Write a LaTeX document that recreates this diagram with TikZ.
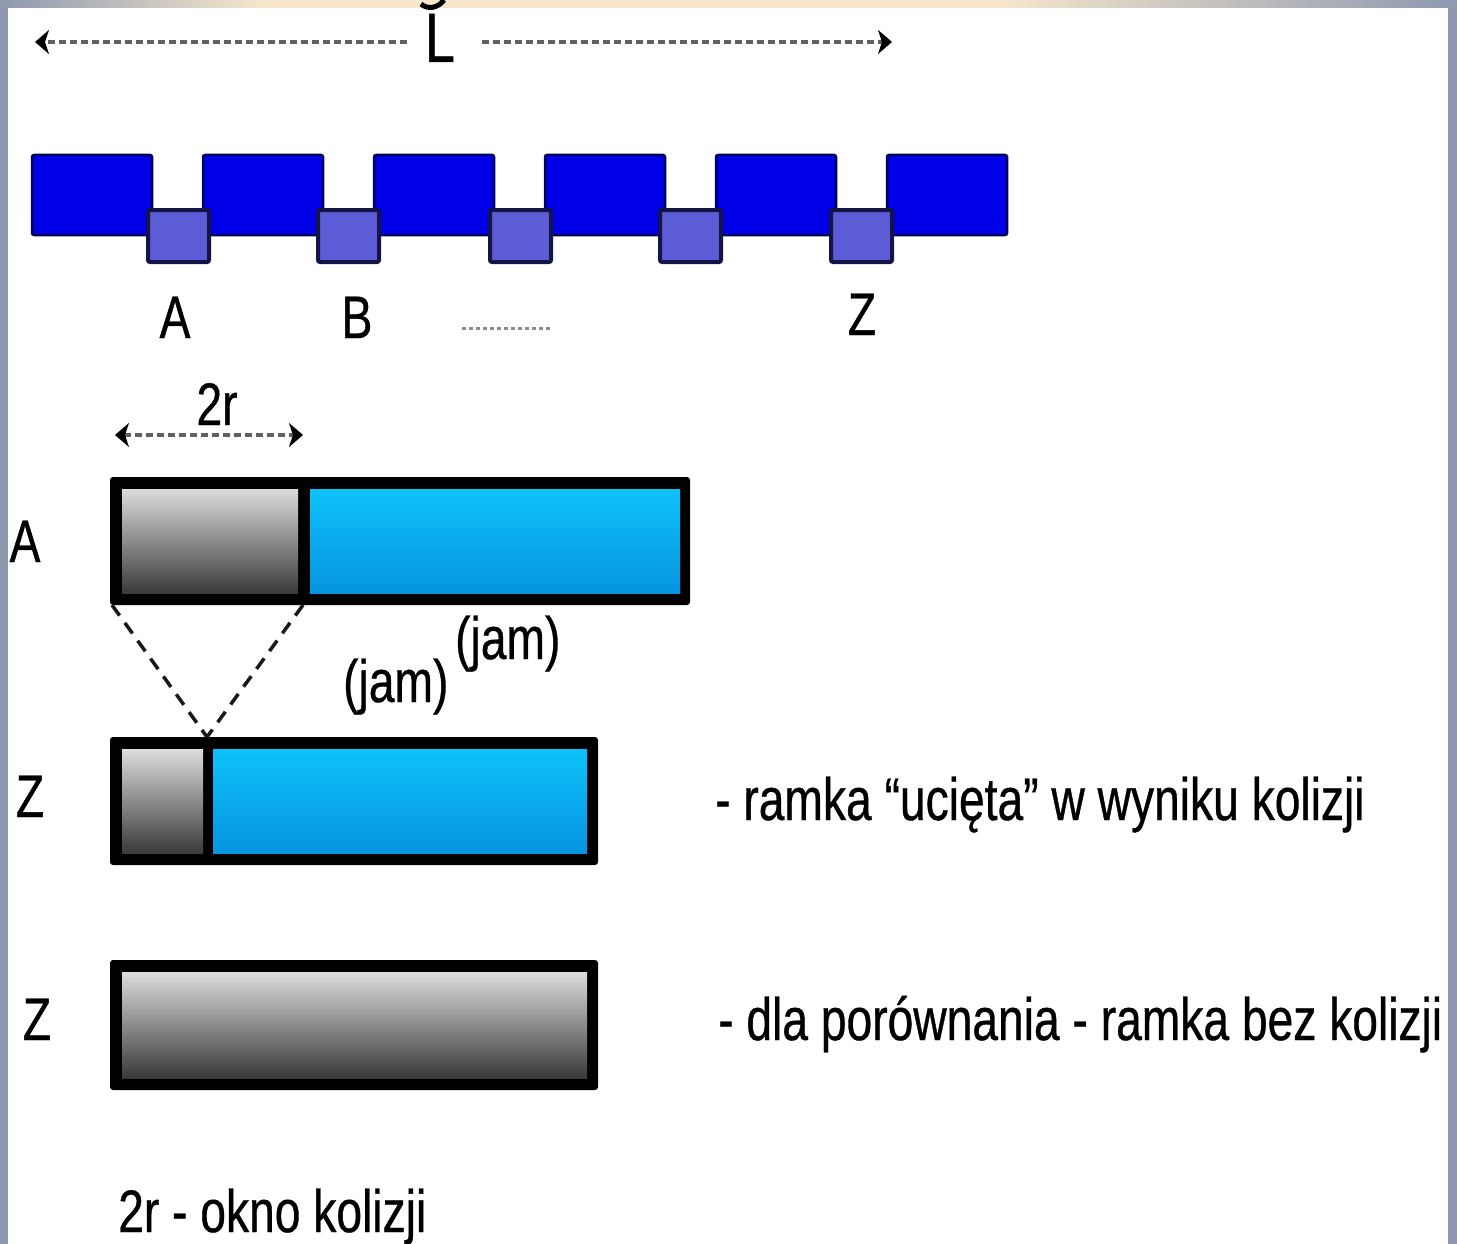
\documentclass[tikz,border=0pt]{standalone}
\usepackage{fontspec}
\setmainfont{Liberation Sans}
\newfontfamily\nar[FakeStretch=0.77,FakeBold=0.6]{Liberation Sans}
\usetikzlibrary{arrows.meta}
\definecolor{frameblue}{RGB}{142,153,175}
\definecolor{beige}{RGB}{245,230,204}
\definecolor{blockblue}{RGB}{0,0,232}
\definecolor{blocknavy}{RGB}{0,0,90}
\definecolor{sqfill}{RGB}{92,92,214}
\definecolor{sqline}{RGB}{20,20,70}
\definecolor{graytop}{RGB}{220,220,220}
\definecolor{graybot}{RGB}{58,58,58}
\definecolor{cyantop}{RGB}{14,194,248}
\definecolor{cyanbot}{RGB}{6,148,224}
\tikzset{
  lbl/.style={font=\nar\fontsize{60}{70}\selectfont, inner sep=0pt, text=black},
  dotarrow/.style={draw=black!62, line width=4pt, dash pattern=on 7pt off 4pt},
  headtip/.tip={Stealth[length=14pt,width=24pt,inset=4pt,color=black]},
  blueblock/.style={fill=blockblue, draw=blocknavy, line width=2.5pt, rounded corners=2pt},
  smallsq/.style={fill=sqfill, draw=sqline, line width=4pt, rounded corners=2pt},
  barframe/.style={fill=black, rounded corners=3pt},
  grayfill/.style={top color=graytop, bottom color=graybot},
  cyanfill/.style={top color=cyantop, bottom color=cyanbot},
  guide/.style={draw=black!90, line width=3.5pt, dash pattern=on 13pt off 9pt}
}
\begin{document}
\begin{tikzpicture}[x=1pt,y=-1pt]
\useasboundingbox (0,0) rectangle (1457,1244);
\fill[white] (0,0) rectangle (1457,1244);

% ---- L span arrow ----
\node[lbl, font=\nar\fontsize{70}{80}\selectfont, anchor=base] (L) at (440,62) {L};
\coordinate (Lin) at (407,42);
\coordinate (Lout) at (35,42);
\coordinate (Rin) at (482,42);
\coordinate (Rout) at (892,42);
\draw[dotarrow, -headtip] (Lin) -- (Lout);
\draw[dotarrow, -headtip] (Rin) -- (Rout);

% ---- bus with stations ----
\foreach \x in {32,203,374,545,716,887}
  \draw[blueblock] (\x,155) rectangle ++(120,80);
\foreach \x in {148,318,490,660,831}
  \draw[smallsq] (\x,210) rectangle ++(61,52);

\node[lbl, anchor=base] (stA) at (175,338) {A};
\node[lbl, anchor=base] (stB) at (357,338) {B};
\node[lbl, anchor=base] (stZ) at (862,335) {Z};
\coordinate (dotsL) at (462,328);
\coordinate (dotsR) at (550,328);
\draw[draw=black!45, line width=3pt, dash pattern=on 4pt off 3pt] (dotsL) -- (dotsR);

% ---- 2r arrow ----
\node[lbl, anchor=base] (tworlbl) at (217,425) {2r};
\coordinate (twoL) at (115,435);
\coordinate (twoR) at (303,435);
\draw[dotarrow, headtip-headtip] (twoL) -- (twoR);

% ---- bar A ----
\fill[barframe] (110,477) rectangle (690,605);
\fill[grayfill] (122,489) rectangle (298,593);
\fill[cyanfill] (310,489) rectangle (680,593);
\node[lbl, anchor=base] (rowA) at (25,562) {A};

% ---- bar Z (collided) ----
\fill[barframe] (110,737) rectangle (598,865);
\fill[grayfill] (122,749) rectangle (203,853);
\fill[cyanfill] (213,749) rectangle (587,853);
\node[lbl, anchor=base] (rowZ) at (30,817) {Z};

% guide lines
\coordinate (aBL) at (112,605);
\coordinate (aBM) at (303,605);
\coordinate (zTM) at (207,737);
\draw[guide] (aBL) -- (zTM);
\draw[guide] (aBM) -- (zTM);

\node[lbl, anchor=base west] (jam1) at (343,702) {(jam)};
\node[lbl, anchor=base west] (jam2) at (455,659) {(jam)};

% ---- bar Z (no collision) ----
\fill[barframe] (110,960) rectangle (598,1090);
\fill[grayfill] (122,972) rectangle (587,1078);
\node[lbl, anchor=base] (rowZb) at (37,1040) {Z};

% ---- descriptions ----
\node[lbl, anchor=base west] (desc1) at (715,820) {- ramka “ucięta” w wyniku kolizji};
\node[lbl, anchor=base west] (desc2) at (718,1040) {- dla porównania - ramka bez kolizji};
\node[lbl, anchor=base west] (desc3) at (118,1232) {2r - okno kolizji};

% ---- frame strips ----
\fill[frameblue] (0,0) rectangle (8,1244);
\fill[frameblue] (1448,0) rectangle (1457,1244);
\shade[left color=frameblue, right color=beige] (0,0) rectangle (260,8);
\fill[beige] (259,0) rectangle (1001,8);
\shade[left color=beige, right color=frameblue] (1000,0) rectangle (1457,8);
\draw[black, line width=5pt] (421,4) .. controls (428,10) and (438,8) .. (444,0);
\end{tikzpicture}
\end{document}
